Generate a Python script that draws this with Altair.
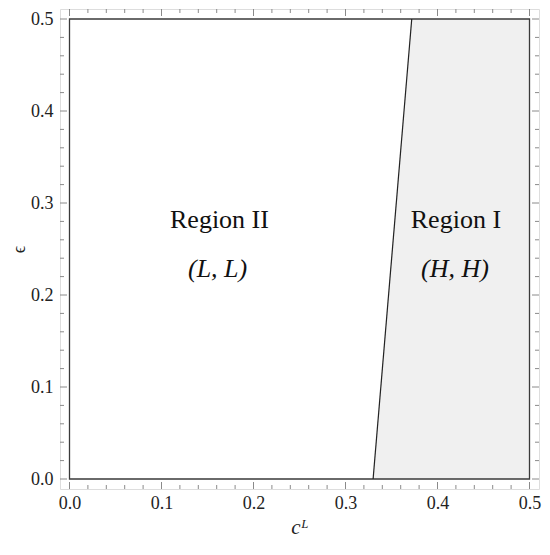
import altair as alt
import pandas as pd

# boundary line between regions
line_x = [0.33, 0.372]
line_y = [0.0, 0.5]

# region I (shaded) rows
reg_y = [0.0, 0.5]
reg_xl = [0.33, 0.372]
reg_xr = [0.5, 0.5]

major = [0.0, 0.1, 0.2, 0.3, 0.4, 0.5]
minor = [round(i * 0.02, 2) for i in range(26) if i % 5 != 0]

labels = ["Region II", "Region I"]
labels_x = [0.163, 0.42]
labels_y = [0.273, 0.273]
pairs = ["(L, L)", "(H, H)"]
pairs_x = [0.161, 0.419]
pairs_y = [0.2196, 0.2196]

W = 479
H = 480
PADX = (W / 920 - 0.5) / 2
PADY = (H / 920 - 0.5) / 2
FONT = "Liberation Serif"

xs = alt.Scale(domain=[-PADX, 0.5 + PADX], nice=False, zero=False)
ys = alt.Scale(domain=[-PADY, 0.5 + PADY], nice=False, zero=False)

xaxis = alt.Axis(values=major, format=".1f", ticks=False, domain=False, grid=False,
                 labelFont=FONT, labelFontSize=18, labelColor="#222", labelPadding=5,
                 title="cᴸ", titleFont=FONT, titleFontSize=21, titleFontStyle="italic",
                 titleFontWeight="normal", titleColor="#222", titlePadding=4)
yaxis = alt.Axis(values=major, format=".1f", ticks=False, domain=False, grid=False,
                 labelFont=FONT, labelFontSize=18, labelColor="#222", labelPadding=7,
                 title="ϵ", titleFont=FONT, titleFontSize=18, titleFontWeight="normal",
                 titleColor="#222", titlePadding=2)

region_df = pd.DataFrame({"y": reg_y, "xl": reg_xl, "xr": reg_xr})
area = alt.Chart(region_df).mark_area(orient="horizontal", color="#f0f0f0").encode(
    y=alt.Y("y:Q", scale=ys, axis=yaxis),
    x=alt.X("xl:Q", scale=xs, axis=xaxis),
    x2="xr:Q",
)

box_df = pd.DataFrame({"x0": [0.0], "x1": [0.5], "y0": [0.0], "y1": [0.5]})
box = alt.Chart(box_df).mark_rect(fill=None, stroke="#3a3a3a", strokeWidth=1.3).encode(
    x=alt.X("x0:Q", scale=xs), x2="x1:Q", y=alt.Y("y0:Q", scale=ys), y2="y1:Q"
)

line_df = pd.DataFrame({"x": line_x, "y": line_y})
bline = alt.Chart(line_df).mark_line(color="#222", strokeWidth=1.2).encode(
    x=alt.X("x:Q", scale=xs), y=alt.Y("y:Q", scale=ys)
)

def ticks(vals, length):
    df = pd.DataFrame({"v": vals})
    base = alt.Chart(df).mark_rule(color="#8a8a8a", strokeWidth=1)
    b = base.encode(x=alt.X("v:Q", scale=xs), y=alt.value(H), y2=alt.value(H - length))
    t = base.encode(x=alt.X("v:Q", scale=xs), y=alt.value(0), y2=alt.value(length))
    l = base.encode(y=alt.Y("v:Q", scale=ys), x=alt.value(0), x2=alt.value(length))
    r = base.encode(y=alt.Y("v:Q", scale=ys), x=alt.value(W), x2=alt.value(W - length))
    return [b, t, l, r]

lab_df = pd.DataFrame({"t": labels, "x": labels_x, "y": labels_y})
lab = alt.Chart(lab_df).mark_text(font=FONT, fontSize=26, color="#111", baseline="alphabetic").encode(
    x=alt.X("x:Q", scale=xs), y=alt.Y("y:Q", scale=ys), text="t:N"
)
pair_df = pd.DataFrame({"t": pairs, "x": pairs_x, "y": pairs_y})
pair = alt.Chart(pair_df).mark_text(font=FONT, fontSize=26, fontStyle="italic", color="#111",
                                    baseline="alphabetic").encode(
    x=alt.X("x:Q", scale=xs), y=alt.Y("y:Q", scale=ys), text="t:N"
)

layers = [area, box, bline] + ticks(major, 7) + ticks(minor, 4) + [lab, pair]

chart = alt.layer(*layers).properties(
    width=W, height=H,
    autosize=alt.AutoSizeParams(type="none"),
    padding={"left": 52, "top": 1, "right": 3, "bottom": 50},
).configure_view(stroke="#8a8a8a", strokeWidth=1).configure(background="white")

chart.save("out.html", embed_options={"renderer": "svg", "actions": False})
